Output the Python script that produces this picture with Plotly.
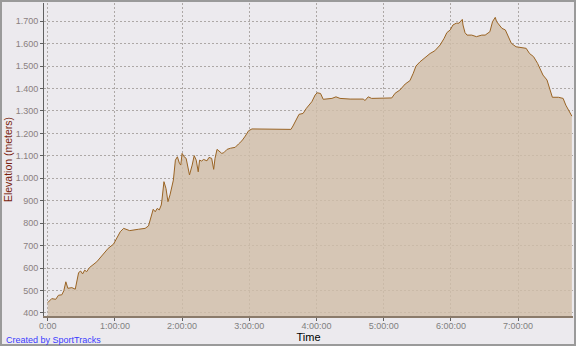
import plotly.graph_objects as go

# elapsed time in hours
time_h = [0.00, 0.06, 0.12, 0.16, 0.21, 0.24, 0.27, 0.30, 0.36, 0.41, 0.46, 0.49, 0.52, 0.55, 0.58,
          0.62, 0.73, 0.80, 0.90, 0.98, 1.03, 1.08, 1.13, 1.17, 1.22, 1.35, 1.45, 1.50, 1.54, 1.57,
          1.60, 1.63, 1.66, 1.69, 1.70, 1.73, 1.76, 1.79, 1.82, 1.85, 1.87, 1.90, 1.93, 1.96, 1.98,
          2.00, 2.03, 2.06, 2.08, 2.11, 2.15, 2.18, 2.21, 2.24, 2.26, 2.29, 2.32, 2.37, 2.40, 2.44,
          2.47, 2.49, 2.52, 2.55, 2.59, 2.62, 2.67, 2.72, 2.79, 2.84, 2.89, 2.94, 2.99, 3.04, 3.26,
          3.48, 3.62, 3.65, 3.71, 3.74, 3.80, 3.85, 3.93, 3.98, 4.01, 4.06, 4.10, 4.15, 4.23, 4.29,
          4.35, 4.50, 4.70, 4.72, 4.77, 4.82, 4.99, 5.07, 5.12, 5.17, 5.24, 5.32, 5.39, 5.44, 5.48,
          5.54, 5.61, 5.69, 5.76, 5.84, 5.90, 5.94, 5.99, 6.03, 6.08, 6.12, 6.17, 6.18, 6.21, 6.24,
          6.31, 6.38, 6.46, 6.51, 6.58, 6.62, 6.66, 6.68, 6.72, 6.76, 6.81, 6.85, 6.90, 6.97, 7.05,
          7.12, 7.17, 7.23, 7.29, 7.34, 7.37, 7.43, 7.47, 7.51, 7.60, 7.67, 7.71, 7.76, 7.80]

# elevation in meters
elevation_m = [446, 464, 461, 479, 481, 499, 539, 510, 513, 506, 580, 587, 574, 591, 584,
               602, 628, 651, 688, 707, 733, 762, 777, 773, 767, 773, 777, 788, 836, 862,
               851, 866, 859, 881, 903, 985, 955, 896, 926, 963, 992, 1081, 1096, 1067, 1059,
               1111, 1096, 1089, 1052, 1015, 1059, 1101, 1081, 1029, 1081, 1077, 1084, 1078, 1093, 1089,
               1040, 1089, 1129, 1123, 1111, 1114, 1129, 1134, 1138, 1153, 1167, 1188, 1212, 1220, 1220,
               1220, 1218, 1233, 1267, 1285, 1289, 1312, 1341, 1371, 1381, 1378, 1352, 1353, 1356, 1363,
               1356, 1353, 1353, 1346, 1363, 1356, 1356, 1356, 1358, 1379, 1393, 1420, 1435, 1468, 1500,
               1519, 1537, 1556, 1568, 1594, 1624, 1649, 1661, 1683, 1691, 1691, 1708, 1683, 1649, 1638,
               1638, 1631, 1638, 1638, 1653, 1698, 1717, 1698, 1683, 1668, 1661, 1631, 1601, 1586, 1583,
               1579, 1556, 1542, 1512, 1482, 1460, 1438, 1393, 1361, 1361, 1356, 1326, 1297, 1277]

x_tickvals = [0, 1, 2, 3, 4, 5, 6, 7]
x_ticktext = ["0:00", "1:00:00", "2:00:00", "3:00:00", "4:00:00", "5:00:00", "6:00:00", "7:00:00"]
y_tickvals = [400, 500, 600, 700, 800, 900, 1000, 1100, 1200, 1300, 1400, 1500, 1600, 1700]
y_ticktext = ["400", "500", "600", "700", "800", "900", "1.000", "1.100", "1.200", "1.300",
              "1.400", "1.500", "1.600", "1.700"]

BG = "#ECEAEE"

fig = go.Figure()
fig.add_trace(go.Scatter(
    x=time_h, y=elevation_m, mode="lines",
    line=dict(color="#9A6424", width=1),
    fill="tozeroy", fillcolor="rgba(209,190,168,0.82)",
    hoverinfo="skip", showlegend=False,
))

W, H = 576, 346
ml, mr, mt, mb = 44, 3, 3, 30
pw, ph = W - ml - mr, H - mt - mb

fig.update_layout(
    width=W, height=H,
    margin=dict(l=ml, r=mr, t=mt, b=mb, pad=0),
    paper_bgcolor=BG, plot_bgcolor=BG,
    font=dict(family="Liberation Sans, Arial, sans-serif", size=9, color="#808080"),
    xaxis=dict(
        range=[-0.055, 7.817], tickvals=x_tickvals, ticktext=x_ticktext,
        showgrid=True, gridcolor="#ADA8A6", griddash="2px,2px", gridwidth=1,
        showline=True, linecolor="#8A7A6A", linewidth=1.5,
        ticks="outside", ticklen=3, tickcolor="#606060",
        ticklabelstandoff=-3,
        tickfont=dict(size=9, color="#808080"),
        title=dict(text="Time", font=dict(size=11, color="#000000"), standoff=0),
        zeroline=False,
    ),
    yaxis=dict(
        range=[386.6, 1781], tickvals=y_tickvals, ticktext=y_ticktext,
        showgrid=True, gridcolor="#ADA8A6", griddash="2px,2px", gridwidth=1,
        showline=True, linecolor="#606060", linewidth=1,
        ticks="outside", ticklen=3, tickcolor="#606060",
        tickfont=dict(size=9, color="#8A7F7F"),
        title=dict(text="Elevation (meters)", font=dict(size=10.5, color="#7A1E0E"), standoff=0),
        zeroline=False,
    ),
    shapes=[dict(
        type="rect", xref="paper", yref="paper",
        x0=-(ml - 1) / pw, x1=1 + (mr - 1) / pw,
        y0=-(mb - 1) / ph, y1=1 + (mt - 1) / ph,
        line=dict(color="#9A9A9A", width=2), fillcolor="rgba(0,0,0,0)", layer="above",
    )],
    annotations=[dict(
        text="Created by SportTracks", xref="paper", yref="paper",
        x=-(ml - 4) / pw, y=-24 / ph, xanchor="left", yanchor="middle",
        showarrow=False, font=dict(size=9, color="#3B3BFF"),
    )],
)

fig.write_html("out.html")
